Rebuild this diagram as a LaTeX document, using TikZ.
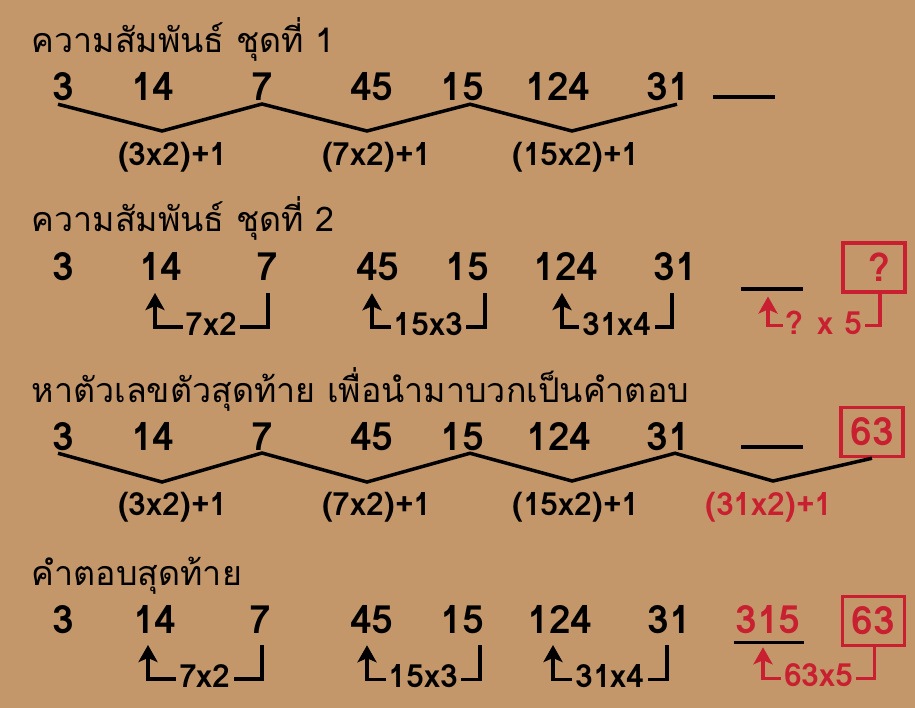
\documentclass[tikz,border=0pt]{standalone}
\usepackage{fontspec}
\setmainfont[Script=Thai]{Loma}
\usetikzlibrary{arrows.meta}
\definecolor{bg}{RGB}{196,151,107}
\definecolor{ans}{RGB}{200,32,48}
\begin{document}
\begin{tikzpicture}[x=1pt,y=-1pt,line width=3.5pt,
  hd/.style={font=\fontsize{34}{34}\selectfont,inner sep=0pt,anchor=base west},
  num/.style={font=\bfseries\fontsize{39}{39}\selectfont,inner sep=0pt,outer ysep=3pt,anchor=base},
  lab/.style={font=\bfseries\fontsize{32}{32}\selectfont,inner sep=0pt,anchor=base},
  tag/.style={font=\bfseries\fontsize{32}{32}\selectfont,inner xsep=3pt,inner ysep=0pt,fill=bg,yshift=3pt},
  ansbox/.style={draw=ans,text=ans,font=\bfseries\fontsize{39}{39}\selectfont,
    minimum width=62pt,minimum height=49pt,inner sep=0pt},
  blank/.style={inner sep=0pt},
  zig/.style={line join=miter},
  conn/.style={-{Stealth[width=19pt,length=17pt,inset=4pt]},shorten <=9pt,shorten >=9pt}]
  \fill[bg] (0,0) rectangle (915,708);
  \useasboundingbox (0,0) rectangle (915,708);
  % set 1
  \node[hd] (h1) at (30,53) {ความสัมพันธ์ ชุดที่ 1};
  \node[num] (a3) at (63,101) {3};     \node[num] (a14) at (153,101) {14};
  \node[num] (a7) at (262,101) {7};    \node[num] (a45) at (372,101) {45};
  \node[num] (a15) at (462,101) {15};  \node[num] (a124) at (558,101) {124};
  \node[num] (a31) at (668,101) {31};
  \node[blank] (q1) at (744,97) {\rule{62pt}{3.5pt}};
  \coordinate (u1) at (162,131); \coordinate (u2) at (367,131); \coordinate (u3) at (572,131);
  \draw[zig] ([xshift=-5pt]a3.south) -- (u1) -- (a7.south) -- (u2)
    -- ([xshift=8pt]a15.south) -- (u3) -- ([xshift=9pt]a31.south);
  \node[lab] (l1) at (173,166) {(3x2)+1};
  \node[lab] (l2) at (377,166) {(7x2)+1};
  \node[lab] (l3) at (576,166) {(15x2)+1};
  % set 2
  \node[hd] (h2) at (30,232) {ความสัมพันธ์ ชุดที่ 2};
  \node[num] (b3) at (63,281) {3};     \node[num] (b14) at (161,281) {14};
  \node[num] (b7) at (267,281) {7};    \node[num] (b45) at (378,281) {45};
  \node[num] (b15) at (467,281) {15};  \node[num] (b124) at (566,281) {124};
  \node[num] (b31) at (675,281) {31};
  \node[blank] (q2) at (772,289) {\rule{62pt}{3.5pt}};
  \node[ansbox] (box2) at (874,267.5) {\hspace*{10pt}?};
  \draw[conn] ([xshift=1pt]b7.south) -- ++(0,43) -| node[pos=.25,tag]{7x2} ([xshift=-6pt]b14.south);
  \draw[conn] ([xshift=18pt]b15.south) -- ++(0,43) -| node[pos=.25,tag]{15x3} ([xshift=-6pt]b45.south);
  \draw[conn] ([xshift=-3pt]b31.south) -- ++(0,43) -| node[pos=.25,tag]{31x4} ([xshift=-4pt]b124.south);
  \draw[conn,ans,shorten <=0pt,shorten >=4pt] ([xshift=6pt]box2.south) -- ++(0,32)
    -| node[pos=.25,tag,text=ans]{? x 5} ([xshift=-4pt]q2.south);
  % set 3
  \node[hd] (h3) at (30,402) {หาตัวเลขตัวสุดท้าย เพื่อนำมาบวกเป็นคำตอบ};
  \node[num] (c3) at (63,450) {3};     \node[num] (c14) at (153,450) {14};
  \node[num] (c7) at (262,450) {7};    \node[num] (c45) at (372,450) {45};
  \node[num] (c15) at (462,450) {15};  \node[num] (c124) at (559,450) {124};
  \node[num] (c31) at (668,450) {31};
  \node[blank] (q3) at (772,447) {\rule{62pt}{3.5pt}};
  \node[ansbox] (box3) at (872,432) {63};
  \coordinate (w1) at (162,482); \coordinate (w2) at (367,482);
  \coordinate (w3) at (572,481); \coordinate (w4) at (773,481);
  \draw[zig] ([xshift=-5pt]c3.south) -- (w1) -- (c7.south) -- (w2)
    -- ([xshift=8pt]c15.south) -- (w3) -- ([xshift=7pt]c31.south) -- (w4) -- (box3.south);
  \node[lab] (m1) at (173,515) {(3x2)+1};
  \node[lab] (m2) at (377,515) {(7x2)+1};
  \node[lab] (m3) at (576,515) {(15x2)+1};
  \node[lab,text=ans] (m4) at (769,515) {(31x2)+1};
  % final answer
  \node[hd] (h4) at (30,585) {คำตอบสุดท้าย};
  \node[num] (d3) at (63,633) {3};     \node[num] (d14) at (155,633) {14};
  \node[num] (d7) at (260,633) {7};    \node[num] (d45) at (372,633) {45};
  \node[num] (d15) at (462,633) {15};  \node[num] (d124) at (560,633) {124};
  \node[num] (d31) at (669,633) {31};
  \node[num,text=ans] (d315) at (768,633) {315};
  \draw ([yshift=-6pt]d315.south west) -- ([yshift=-6pt,xshift=2pt]d315.south east);
  \node[ansbox] (box4) at (873.5,621) {63};
  \draw[conn] ([xshift=2pt]d7.south) -- ++(0,43) -| node[pos=.25,tag]{7x2} ([xshift=-7pt]d14.south);
  \draw[conn] ([xshift=18pt]d15.south) -- ++(0,43) -| node[pos=.25,tag]{15x3} ([xshift=-5pt]d45.south);
  \draw[conn] ([xshift=-2pt]d31.south) -- ++(0,43) -| node[pos=.25,tag]{31x4} ([xshift=-7pt]d124.south);
  \draw[conn,ans,shorten <=0pt,shorten >=11pt] ([xshift=1pt]box4.south) -- ++(0,31)
    -| node[pos=.25,tag,text=ans]{63x5} ([xshift=-5pt]d315.south);
\end{tikzpicture}
\end{document}
